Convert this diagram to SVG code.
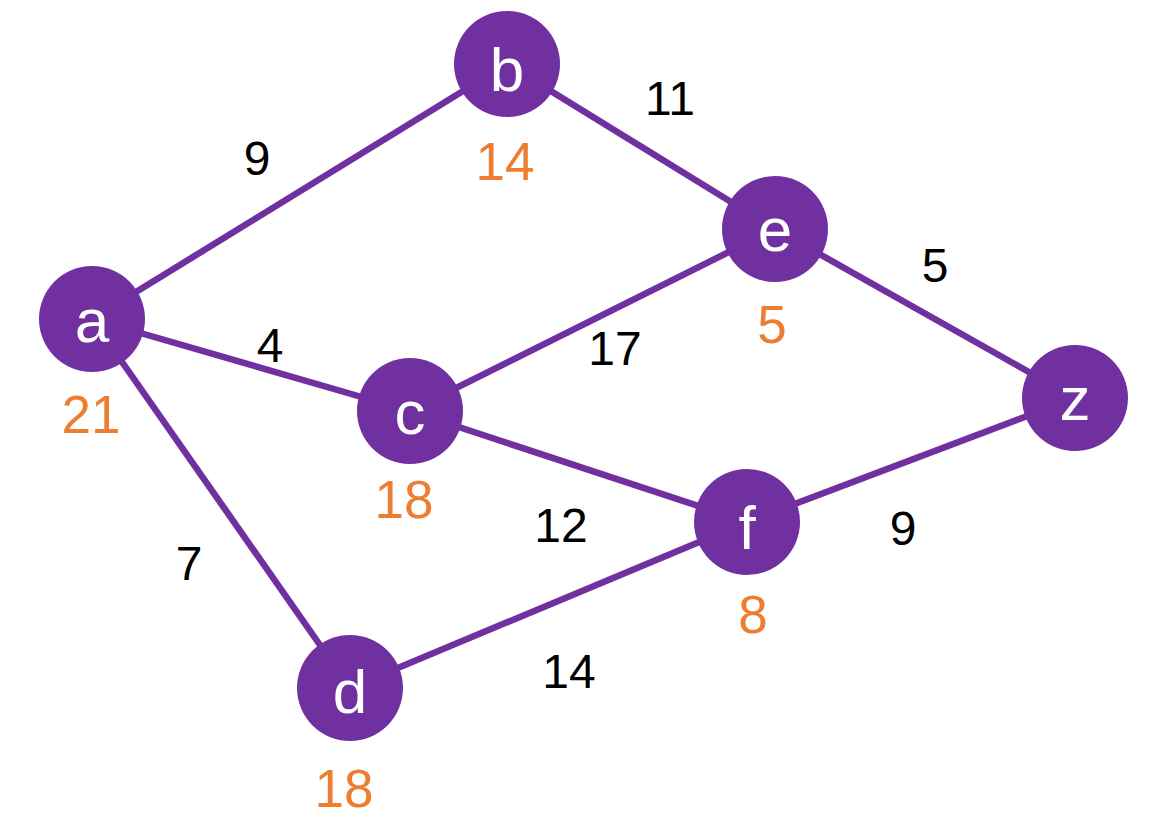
<svg xmlns="http://www.w3.org/2000/svg" width="1153" height="816" viewBox="0 0 1153 816">
<style>
.edge{stroke:#7030A0;stroke-width:6.5;stroke-linecap:butt}
.node{fill:#7030A0}
.lbl{font-family:"Liberation Sans",Arial,sans-serif;font-size:62px;fill:#ffffff;text-anchor:middle}
.w{font-family:"Liberation Sans",Arial,sans-serif;font-size:48px;fill:#000000;text-anchor:middle}
.o{font-family:"Liberation Sans",Arial,sans-serif;font-size:53px;fill:#ED7D31;text-anchor:middle}
</style>
<rect width="1153" height="816" fill="#ffffff"/>
<g id="connectors">
<line class="edge" x1="92" y1="319" x2="507" y2="64"/>
<line class="edge" x1="507" y1="64" x2="775" y2="229"/>
<line class="edge" x1="92" y1="319" x2="410" y2="411"/>
<line class="edge" x1="410" y1="411" x2="775" y2="229"/>
<line class="edge" x1="775" y1="229" x2="1075" y2="398"/>
<line class="edge" x1="410" y1="411" x2="747" y2="522"/>
<line class="edge" x1="747" y1="522" x2="1075" y2="398"/>
<line class="edge" x1="92" y1="319" x2="350" y2="688"/>
<line class="edge" x1="350" y1="688" x2="747" y2="522"/>
<text class="w" x="257" y="175">9</text>
<text class="w" x="670" y="115">11</text>
<text class="w" x="270" y="362">4</text>
<text class="w" x="615" y="365">17</text>
<text class="w" x="935" y="282">5</text>
<text class="w" x="561" y="542">12</text>
<text class="w" x="903" y="545">9</text>
<text class="w" x="189" y="580">7</text>
<text class="w" x="569" y="688">14</text>
</g>
<g id="node-a"><circle class="node" cx="92" cy="319" r="53"/><text class="lbl" x="92" y="342">a</text><text class="o" x="91" y="433">21</text></g>
<g id="node-b"><circle class="node" cx="507" cy="64" r="53"/><text class="lbl" x="507" y="91">b</text><text class="o" x="505" y="180">14</text></g>
<g id="node-e"><circle class="node" cx="775" cy="229" r="53"/><text class="lbl" x="775" y="251">e</text><text class="o" x="772" y="343">5</text></g>
<g id="node-c"><circle class="node" cx="410" cy="411" r="53"/><text class="lbl" x="410" y="434">c</text><text class="o" x="404" y="518">18</text></g>
<g id="node-z"><circle class="node" cx="1075" cy="398" r="53"/><text class="lbl" x="1075" y="420">z</text></g>
<g id="node-f"><circle class="node" cx="747" cy="522" r="53"/><text class="lbl" x="747" y="549">f</text><text class="o" x="753" y="633">8</text></g>
<g id="node-d"><circle class="node" cx="350" cy="688" r="53"/><text class="lbl" x="350" y="713">d</text><text class="o" x="344" y="807">18</text></g>
</svg>
